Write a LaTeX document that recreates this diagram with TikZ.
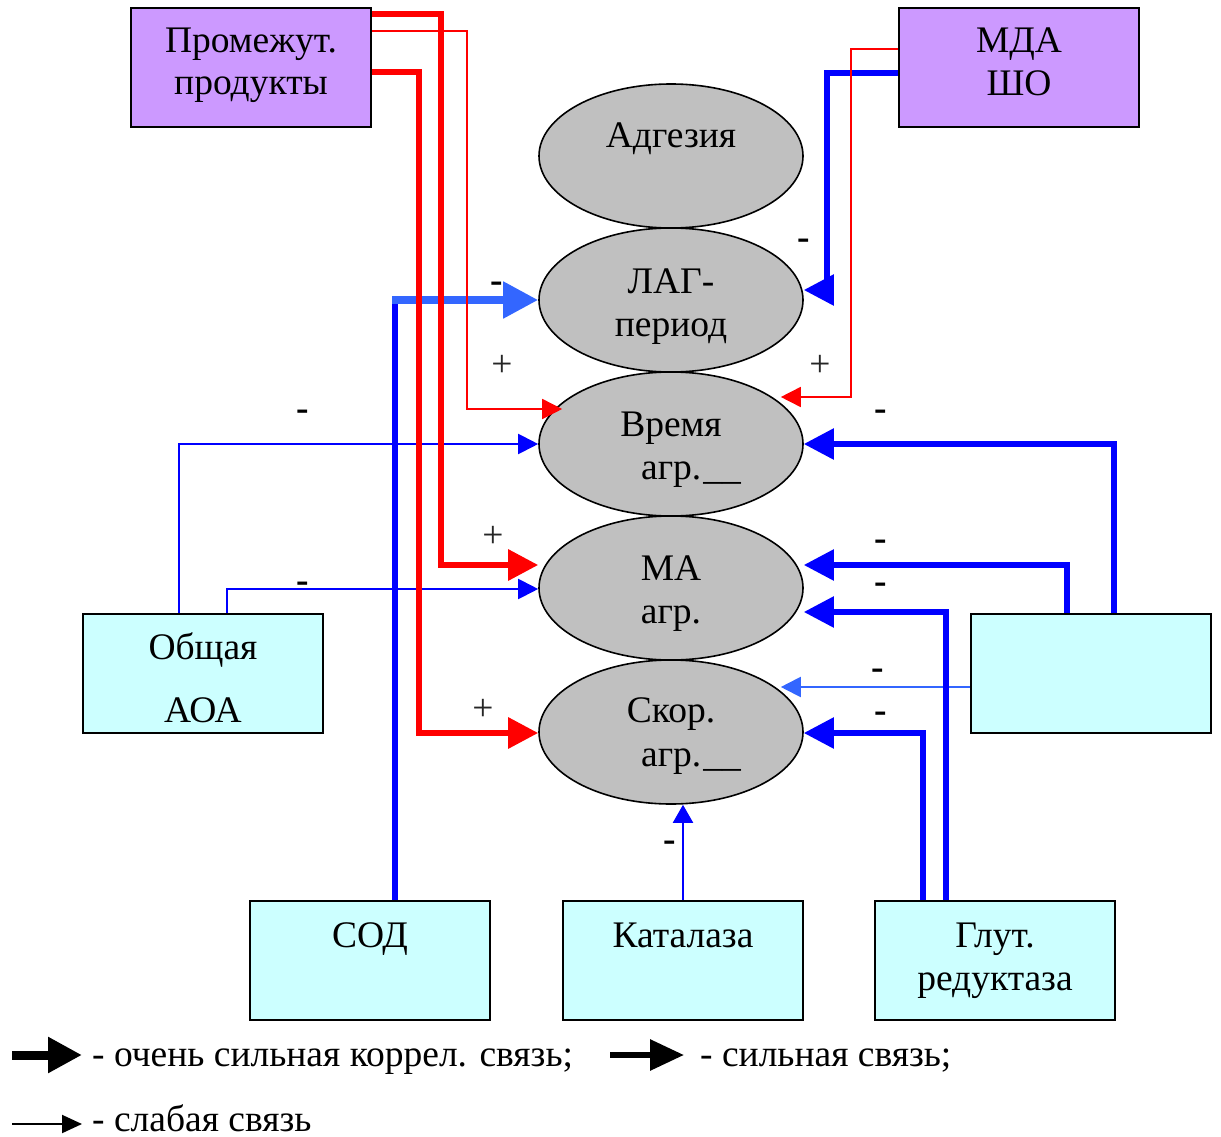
\documentclass[tikz,border=0pt]{standalone}
\usepackage{fontspec}
\setmainfont{Liberation Serif}
\usetikzlibrary{arrows.meta,shapes.geometric,calc}
\definecolor{purp}{HTML}{CC99FF}
\definecolor{cyanbox}{HTML}{CCFFFF}
\definecolor{ellg}{HTML}{C0C0C0}
\definecolor{lblue}{HTML}{3366FF}
\definecolor{pblue}{HTML}{0000FF}
\definecolor{pred}{HTML}{FF0000}
\begin{document}
\begin{tikzpicture}[x=1pt,y=-1pt,font=\fontsize{37.5}{45}\selectfont,
  box/.style={draw=black,line width=2pt,minimum width=240pt,minimum height=119pt,inner sep=0pt},
  pbox/.style={box,fill=purp},
  cbox/.style={box,fill=cyanbox},
  ell/.style={ellipse,draw=black,line width=1.6pt,fill=ellg,minimum width=264pt,minimum height=144pt,inner sep=0pt},
  txt/.style={anchor=base,inner sep=0pt},
  minus/.style={anchor=base,inner sep=0pt,font=\fontsize{37.5}{45}\selectfont\bfseries},
  plus/.style={anchor=base,inner sep=0pt,text=black!85},
  bigA/.style={-{Triangle[length=30pt,width=30pt]}},
  smallA/.style={-{Triangle[length=20pt,width=20pt]}},
  rthick/.style={draw=pred,line width=6pt},
  rthin/.style={draw=pred,line width=1.6pt},
  bthick/.style={draw=pblue,line width=5.5pt},
  bthin/.style={draw=pblue,line width=2pt},
  lbthick/.style={draw=lblue,line width=8pt},
  lbthin/.style={draw=lblue,line width=2pt}]
\useasboundingbox (0,0) rectangle (1221,1137);
% ellipses
\node[ell] (adg) at (671,156) {};
\node[ell] (lag) at (671,300) {};
\node[ell] (vrem) at (671,444) {};
\node[ell] (ma) at (671,588) {};
\node[ell] (skor) at (671,732) {};
% boxes
\node[pbox] (prom) at (251,67.5) {};
\node[pbox] (mda) at (1019,67.5) {};
\node[cbox] (aoa) at (203,673) {};
\node[cbox] (rbox) at (1091,673) {};
\node[cbox] (sod) at (370,960.5) {};
\node[cbox] (kat) at (683,960.5) {};
\node[cbox] (glut) at (995,960.5) {};
% texts
\node[txt] (tprom1) at (251,53) {Промежут.};
\node[txt] (tprom2) at (251,95) {продукты};
\node[txt] (tmda1) at (1019,53) {МДА};
\node[txt] (tmda2) at (1019,96) {ШО};
\node[txt] (tadg) at (671,148) {Адгезия};
\node[txt] (tlag1) at (671,293) {ЛАГ-};
\node[txt] (tlag2) at (671,336) {период};
\node[txt] (tvr1) at (671,436) {Время};
\node[txt,anchor=base west] (tvr2) at (641,479) {агр.\kern2pt\_\_};
\node[txt] (tma1) at (671,580) {МА};
\node[txt] (tma2) at (671,623) {агр.};
\node[txt] (tsk1) at (671,722) {Скор.};
\node[txt,anchor=base west] (tsk2) at (641,766) {агр.\kern2pt\_\_};
\node[txt] (taoa1) at (203,659) {Общая};
\node[txt] (taoa2) at (203,722) {АОА};
\node[txt] (tsod) at (370,947) {СОД};
\node[txt] (tkat) at (683,947) {Каталаза};
\node[txt] (tgl1) at (995,947) {Глут.};
\node[txt] (tgl2) at (995,990) {редуктаза};
% helper end points
\coordinate (vremL) at ($(vrem.west)+(24,-35)$);
\coordinate (vremR) at ($(vrem.east)+(-23,-47)$);
\coordinate (skorR) at ($(skor.east)+(-23,-45)$);
\coordinate (lagR) at ($(lag.east)+(0,-10)$);
% light blue thin
\draw[lbthin,smallA] (rbox.west |- skorR) -- (skorR);
% blue connectors
\draw[bthin,smallA] (aoa.north -| 179,0) -- (179,444) -- (vrem.west);
\draw[bthin,smallA] (aoa.north -| 227,0) -- (227,589) -- (ma.west |- 0,589);
\draw[bthick,bigA] (rbox.north -| 1114,0) -- (1114,444) -- (vrem.east);
\draw[bthick,bigA] (rbox.north -| 1067,0) -- (1067,565) -- (ma.east |- 0,565);
\draw[bthick,bigA] (glut.north -| 946,0) -- (946,612) -- (ma.east |- 0,612);
\draw[bthick,bigA] (glut.north -| 923,0) -- (923,733) -- (skor.east |- 0,733);
\draw[bthin,-{Triangle[length=18pt,width=20pt]}] (kat.north) -- (skor.south -| kat.north);
\draw[bthick,bigA] (mda.west |- 0,73) -- (827,73) -- (827,290) -- (lagR);
\draw[bthick] (sod.north -| 395,0) -- (395,300);
\draw[lbthick,-{Triangle[length=35pt,width=35pt]}] (392,300) -- (lag.west);
% red connectors
\draw[rthick,bigA] (prom.east |- 0,14) -- (441,14) -- (441,565) -- (ma.west |- 0,565);
\draw[rthin,smallA] (prom.east |- 0,31) -- (467,31) -- (467,409) -- (vremL);
\draw[rthick,bigA] (prom.east |- 0,72) -- (419,72) -- (419,733) -- (skor.west |- 0,733);
\draw[rthin,smallA] (mda.west |- 0,49) -- (851,49) -- (851,397) -- (vremR);
% signs
\node[minus] (m1) at (497,292) {-};
\node[minus] (m2) at (804,249) {-};
\node[minus] (m3) at (303,420) {-};
\node[minus] (m4) at (881,420) {-};
\node[minus] (m5) at (303,592) {-};
\node[minus] (m6) at (881,550) {-};
\node[minus] (m7) at (881,593) {-};
\node[minus] (m8) at (878,679) {-};
\node[minus] (m9) at (881,722) {-};
\node[minus] (m10) at (670,851) {-};
\node[plus] (p1) at (502,376) {+};
\node[plus] (p2) at (820,376) {+};
\node[plus] (p3) at (493,547) {+};
\node[plus] (p4) at (483,720) {+};
% legend
\coordinate (l1a) at (12,1055);
\coordinate (l1b) at (82,1055);
\coordinate (l2a) at (610,1055);
\coordinate (l2b) at (684,1055);
\coordinate (l3a) at (12,1124);
\coordinate (l3b) at (82,1124);
\draw[line width=9pt,-{Triangle[length=34pt,width=34pt]}] (l1a) -- (l1b);
\draw[line width=6pt,-{Triangle[length=34pt,width=30pt]}] (l2a) -- (l2b);
\draw[line width=2pt,-{Triangle[length=20pt,width=18pt]}] (l3a) -- (l3b);
\node[anchor=base west,inner sep=0pt] (leg1) at (92,1066) {- очень сильная коррел. связь;};
\node[anchor=base west,inner sep=0pt] (leg2) at (700,1066) {- сильная связь;};
\node[anchor=base west,inner sep=0pt] (leg3) at (92,1131) {- слабая связь};
\end{tikzpicture}
\end{document}
